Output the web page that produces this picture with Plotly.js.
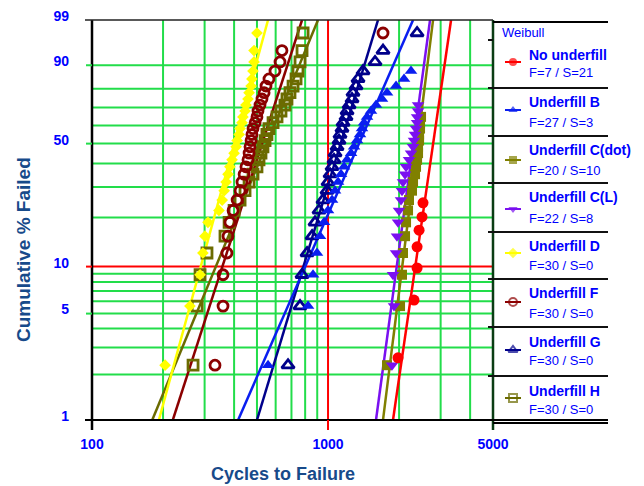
<!DOCTYPE html>
<html><head><meta charset="utf-8">
<script src="https://cdn.plot.ly/plotly-3.0.1.min.js"></script>
<style>html,body{margin:0;padding:0;background:#fff}#chart{width:644px;height:486px}</style>
</head><body><div id="chart"></div>
<script>
// ---------- data ----------
const xTickVals = [100, 1000, 5000];
const xTickText = ['100', '1000', '5000'];
const yTickVals = [1, 5, 10, 50, 90, 99];
const yTickText = ['1', '5', '10', '50', '90', '99'];
const xGrid = [200, 300, 400, 500, 600, 700, 800, 900, 2000, 3000, 4000];
const yGrid = [2, 3, 4, 5, 6, 7, 8, 9, 20, 30, 40, 50, 60, 70, 80, 90];

// plotting positions (% failed)
const pct30 = [2.30, 5.59, 8.88, 12.17, 15.46, 18.75, 22.04, 25.33, 28.62, 31.91, 35.20, 38.49, 41.78, 45.07, 48.36,
  51.64, 54.93, 58.22, 61.51, 64.80, 68.09, 71.38, 74.67, 77.96, 81.25, 84.54, 87.83, 91.12, 94.41, 97.70];

const noUnderfillX = [1980, 2314, 2384, 2384, 2431, 2502, 2526];
const noUnderfillP = [2.57, 6.12, 9.8, 13.3, 16.8, 20.2, 24.4];
const underfillBX = [557, 823, 864, 898, 925, 962, 1000, 1040, 1071, 1103, 1135, 1169, 1204, 1252, 1289, 1327, 1366, 1393, 1421, 1463, 1521, 1597, 1693, 1778, 1942, 2099, 2247];
const underfillCdotX = [1778, 2019, 2058, 2078, 2120, 2141, 2183, 2204, 2269, 2292, 2337, 2360, 2384, 2407, 2407, 2431, 2431, 2454, 2454, 2478];
const underfillCLX = [1867, 1904, 1885, 1942, 1960, 1980, 1999, 2038, 2058, 2078, 2120, 2141, 2204, 2247, 2292, 2314, 2337, 2360, 2384, 2384, 2407, 2407];
const underfillDX = [204, 260, 287, 295, 301, 310, 345, 356, 363, 370, 377, 384, 392, 400, 408, 412, 420, 424, 432, 436, 445, 449, 458, 463, 472, 476, 481, 486, 486, 500];
const underfillFX = [332, 359, 359, 373, 377, 384, 396, 412, 424, 432, 441, 449, 458, 463, 467, 472, 476, 481, 491, 500, 505, 515, 525, 536, 546, 562, 596, 626, 638, 1710];
const underfillGX = [677, 761, 776, 815, 856, 881, 916, 952, 990, 1000, 1020, 1040, 1060, 1071, 1092, 1113, 1124, 1146, 1158, 1192, 1204, 1228, 1264, 1276, 1314, 1340, 1407, 1582, 1710, 2384];
const underfillHX = [268, 279, 287, 307, 366, 381, 400, 424, 445, 463, 481, 500, 510, 520, 530, 541, 551, 562, 585, 608, 632, 657, 670, 690, 711, 732, 746, 761, 776, 784];

// Weibull fit lines: cycles at 1 % and at 99 %
const fitAt1 = [1885, 416, 1710, 1597, 192, 220, 500, 180];
const fitAt99 = [3321, 2292, 2786, 2705, 557, 776, 1629, 907];

const seriesNames = ['No underfill', 'Underfill B', 'Underfill C(dot)', 'Underfill C(L)', 'Underfill D', 'Underfill F', 'Underfill G', 'Underfill H'];
const seriesCounts = ['F=7 / S=21', 'F=27 / S=3', 'F=20 / S=10', 'F=22 / S=8', 'F=30 / S=0', 'F=30 / S=0', 'F=30 / S=0', 'F=30 / S=0'];

// ---------- styling ----------
const seriesX = [noUnderfillX, underfillBX, underfillCdotX, underfillCLX, underfillDX, underfillFX, underfillGX, underfillHX];
const seriesP = [noUnderfillP, pct30.slice(0, 27), pct30.slice(0, 20), pct30.slice(0, 22), pct30, pct30, pct30, pct30];
const colors = ['#ff0000', '#0a1ef0', '#808000', '#7a10f0', '#ffff00', '#8b0000', '#00008b', '#6b6b00'];
const symbols = ['circle', 'triangle-up', 'square', 'triangle-down', 'diamond', 'circle-open', 'triangle-up-open', 'square-open'];
const sizes = [11, 11, 10, 11, 9, 10, 11, 10];
const legendRowY = [62, 110, 160, 209, 253, 302, 350, 398];
const legendNameY = [55, 102, 150, 197, 246, 293, 342, 391];
const legendCountY = [73, 122, 170, 218, 265, 313, 360, 409];

const FONT = 'Liberation Sans, Arial, sans-serif';
const BLUE = '#0000ff';
const TITLE = '#174a8a';
const GREEN = '#22dd4a';

const W = 644, H = 486, L = 92, R = 36, T = 20, B = 66;
const plotW = W - L - R, plotH = H - T - B;
const dom = 401 / plotW;
function wb(p) { return Math.log(-Math.log(1 - p / 100)); }
const yLo = wb(1), yHi = wb(99);
function ppx(pix) { return (pix - L) / plotW; }
function ppy(pix) { return (H - B - pix) / plotH; }
function paperY(p) { return (wb(p) - yLo) / (yHi - yLo); }
function paperX(v) { return dom * (Math.log10(v) - 2) / (Math.log10(5000) - 2); }

const traces = [];
// grid
const gx = [], gy = [];
xGrid.forEach(v => { gx.push(v, v, null); gy.push(yLo, yHi, null); });
yGrid.forEach(p => { gx.push(100, 5000, null); gy.push(wb(p), wb(p), null); });
traces.push({ x: gx, y: gy, mode: 'lines', line: { color: GREEN, width: 2 }, hoverinfo: 'skip', showlegend: false });
traces.push({ x: [1000, 1000, null, 100, 5000], y: [yLo, yHi, null, wb(10), wb(10)], mode: 'lines',
  line: { color: '#ff0000', width: 2 }, hoverinfo: 'skip', showlegend: false });

// fits then points
const order = [7, 5, 4, 6, 1, 2, 3, 0];
order.forEach(i => {
  traces.push({ x: [fitAt1[i], fitAt99[i]], y: [yLo, yHi], mode: 'lines',
    line: { color: colors[i], width: 2.5 }, showlegend: false, hoverinfo: 'skip' });
});
order.forEach(i => {
  const open = symbols[i].indexOf('open') >= 0;
  traces.push({ x: seriesX[i], y: seriesP[i].map(wb), mode: 'markers', name: seriesNames[i], showlegend: false,
    marker: { symbol: symbols[i], size: sizes[i], color: colors[i], line: { color: colors[i], width: open ? 2.8 : 0 } } });
});
// legend samples
seriesNames.forEach((n, i) => {
  const open = symbols[i].indexOf('open') >= 0;
  traces.push({ x: [505, 513, 521], y: [legendRowY[i], legendRowY[i], legendRowY[i]], xaxis: 'x2', yaxis: 'y2',
    mode: 'lines+markers', cliponaxis: false, showlegend: false, hoverinfo: 'skip',
    line: { color: colors[i], width: 2 },
    marker: { symbol: symbols[i], size: [0, 8, 0], color: colors[i], line: { color: colors[i], width: open ? 2 : 0 } } });
});

const shapes = [];
function ln(x0, y0, x1, y1, color, width) {
  shapes.push({ type: 'line', xref: 'paper', yref: 'paper', x0: x0, y0: y0, x1: x1, y1: y1, line: { color: color, width: width }, layer: 'above' });
}
// frame
ln(0, ppy(430), 0, 1, '#000', 2.5);
ln(dom, ppy(430), dom, 1, '#0b3d14', 2.5);
ln(ppx(85), 1, dom, 1, '#222', 1.5);
ln(ppx(85), 0, 1, 0, '#000', 2);
ln(paperX(1000), ppy(430), paperX(1000), 0, '#ff0000', 2);
[5, 50, 90].forEach(p => ln(ppx(86), paperY(p), 0, paperY(p), GREEN, 2));
ln(ppx(86), paperY(10), 0, paperY(10), '#ff0000', 2);
// legend boxes
ln(dom, ppy(22), 1, ppy(22), '#000', 2);
[88, 136, 183, 232, 279, 327, 376].forEach(y => ln(ppx(488), ppy(y), 1, ppy(y), '#111', 2));
ln(ppx(488), ppy(40), dom, ppy(40), '#111', 2);
ln(dom, ppy(423), 1, ppy(423), '#000', 2);

const ann = [];
ann.push({ text: 'Weibull', xref: 'paper', yref: 'paper', x: ppx(500), y: ppy(32), xanchor: 'left', yanchor: 'middle',
  showarrow: false, font: { family: FONT, size: 13, color: BLUE } });
seriesNames.forEach((n, i) => {
  ann.push({ text: n, xref: 'paper', yref: 'paper', x: ppx(527), y: ppy(legendNameY[i]), xanchor: 'left', yanchor: 'middle',
    showarrow: false, font: { family: FONT, size: 14, color: BLUE, weight: 700 } });
  ann.push({ text: seriesCounts[i], xref: 'paper', yref: 'paper', x: ppx(527), y: ppy(legendCountY[i]), xanchor: 'left', yanchor: 'middle',
    showarrow: false, font: { family: FONT, size: 13, color: BLUE } });
});
ann.push({ text: 'Cumulative % Failed', xref: 'paper', yref: 'paper', x: ppx(24), y: ppy(250), textangle: -90,
  xanchor: 'center', yanchor: 'middle', showarrow: false, font: { family: FONT, size: 19, color: TITLE, weight: 700 } });
ann.push({ text: 'Cycles to Failure', xref: 'paper', yref: 'paper', x: ppx(283), y: ppy(474),
  xanchor: 'center', yanchor: 'middle', showarrow: false, font: { family: FONT, size: 18, color: TITLE, weight: 700 } });

const layout = {
  width: W, height: H, margin: { l: L, r: R, t: T, b: B, pad: 0 },
  paper_bgcolor: '#fff', plot_bgcolor: '#fff', showlegend: false,
  xaxis: { type: 'log', domain: [0, dom], range: [2, Math.log10(5000)], tickvals: xTickVals, ticktext: xTickText,
    ticks: '', showgrid: false, zeroline: false, showline: false, ticklabelstandoff: 14,
    tickfont: { family: FONT, size: 14, color: BLUE, weight: 700 } },
  yaxis: { range: [yLo, yHi], tickvals: yTickVals.map(wb), ticktext: yTickText, ticks: '', showgrid: false,
    zeroline: false, showline: false, ticklabelstandoff: 22, ticklabelshift: -4,
    tickfont: { family: FONT, size: 14, color: BLUE, weight: 700 } },
  xaxis2: { domain: [dom, 1], range: [493, 608], visible: false, anchor: 'y2', fixedrange: true },
  yaxis2: { domain: [0, 1], range: [420, 20], visible: false, anchor: 'x2', fixedrange: true },
  shapes: shapes, annotations: ann
};
Plotly.newPlot('chart', traces, layout, { staticPlot: true, displayModeBar: false });
</script></body></html>
